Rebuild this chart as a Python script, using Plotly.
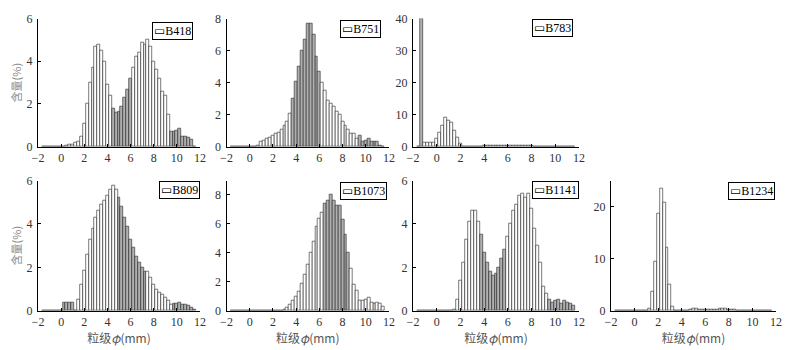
import plotly.graph_objects as go

# 粒级 bin centres (phi), 0.25 phi bins
PHI = [-1.5, -1.25, -1.0, -0.75, -0.5, -0.25, 0.0, 0.25, 0.5, 0.75,
       1.0, 1.25, 1.5, 1.75, 2.0, 2.25, 2.5, 2.75, 3.0, 3.25,
       3.5, 3.75, 4.0, 4.25, 4.5, 4.75, 5.0, 5.25, 5.5, 5.75,
       6.0, 6.25, 6.5, 6.75, 7.0, 7.25, 7.5, 7.75, 8.0, 8.25,
       8.5, 8.75, 9.0, 9.25, 9.5, 9.75, 10.0, 10.25, 10.5, 10.75,
       11.0, 11.25, 11.5]

# 含量 (%) for each sample, one value per bin above
B418 = [0.02, 0.02, 0.02, 0.02, 0.02, 0.02, 0.02, 0.02, 0.05, 0.08,
        0.1, 0.2, 0.25, 0.5, 1.1, 2.0, 3.0, 3.7, 4.7, 4.8,
        4.5, 4.0, 2.9, 2.4, 1.8, 1.6, 1.65, 1.9, 2.3, 2.7,
        3.2, 3.7, 4.2, 4.4, 4.9, 4.8, 5.0, 4.7, 4.0, 3.6,
        3.2, 2.6, 2.4, 1.5, 0.7, 0.7, 0.75, 0.85, 0.5, 0.5,
        0.45, 0.35, 0.0]
B751 = [0.02, 0.02, 0.02, 0.02, 0.02, 0.02, 0.02, 0.02, 0.02, 0.1,
        0.3, 0.4, 0.5, 0.6, 0.7, 0.8, 0.9, 1.1, 1.3, 1.6,
        2.1, 3.0, 4.1, 5.0, 6.0, 6.7, 7.7, 7.7, 7.0, 5.6,
        4.7, 4.0, 3.5, 2.9, 2.7, 2.5, 2.2, 2.0, 1.6, 1.3,
        1.1, 0.8, 0.8, 0.5, 0.7, 0.35, 0.4, 0.5, 0.3, 0.35,
        0.3, 0.1, 0.0]
B783 = [0.0, 40.0, 1.4, 1.4, 1.4, 1.4, 2.7, 4.4, 6.7, 9.0,
        8.3, 7.4, 5.0, 2.8, 0.9, 0.2, 0.05, 0.05, 0.05, 0.05,
        0.05, 0.1, 0.25, 0.3, 0.3, 0.3, 0.3, 0.3, 0.35, 0.35,
        0.35, 0.35, 0.35, 0.35, 0.35, 0.3, 0.3, 0.3, 0.3, 0.2,
        0.15, 0.15, 0.15, 0.15, 0.15, 0.15, 0.15, 0.15, 0.1, 0.1,
        0.1, 0.1, 0.1]
B809 = [0.02, 0.02, 0.02, 0.02, 0.02, 0.02, 0.02, 0.38, 0.38, 0.38,
        0.38, 0.02, 0.5, 1.2, 1.85, 2.6, 3.3, 3.8, 4.3, 4.6,
        4.9, 5.1, 5.3, 5.6, 5.75, 5.6, 5.2, 4.8, 4.3, 3.9,
        3.3, 2.9, 2.5, 2.2, 2.0, 1.8, 1.8, 1.55, 1.2, 1.0,
        0.85, 0.75, 0.6, 0.45, 0.3, 0.35, 0.35, 0.4, 0.3, 0.3,
        0.25, 0.15, 0.05]
B1073 = [0.0, 0.0, 0.0, 0.02, 0.02, 0.02, 0.02, 0.02, 0.02, 0.0,
         0.0, 0.02, 0.02, 0.02, 0.02, 0.02, 0.02, 0.02, 0.05, 0.2,
         0.4, 0.7, 1.0, 1.3, 1.9, 2.5, 3.2, 4.0, 4.8, 5.8,
         6.4, 6.8, 7.4, 7.6, 8.0, 7.6, 7.3, 7.3, 6.3, 5.3,
         4.0, 2.9, 1.8, 1.4, 0.7, 0.7, 0.8, 0.9, 0.6, 0.5,
         0.55, 0.5, 0.3]
B1141 = [0.0, 0.0, 0.0, 0.0, 0.02, 0.02, 0.02, 0.02, 0.02, 0.02,
         0.02, 0.02, 0.05, 0.5, 1.4, 2.2, 3.3, 4.1, 4.6, 4.6,
         4.1, 3.5, 2.7, 2.2, 1.8, 1.6, 1.7, 2.0, 2.4, 2.8,
         3.4, 4.0, 4.6, 4.9, 5.3, 5.4, 5.2, 5.4, 4.7, 3.8,
         3.0, 2.2, 1.1, 0.8, 0.5, 0.4, 0.45, 0.5, 0.35, 0.45,
         0.4, 0.35, 0.25]
B1234 = [0.0, 0.0, 0.0, 0.0, 0.05, 0.05, 0.05, 0.05, 0.05, 0.05,
         0.05, 0.5, 3.6, 9.5, 18.7, 23.5, 20.7, 12.1, 5.0, 0.8,
         0.1, 0.05, 0.05, 0.05, 0.1, 0.2, 0.35, 0.35, 0.3, 0.15,
         0.15, 0.15, 0.2, 0.25, 0.3, 0.35, 0.4, 0.35, 0.3, 0.25,
         0.2, 0.1, 0.1, 0.05, 0.05, 0.05, 0.05, 0.05, 0.05, 0.05,
         0.05, 0.05, 0.05]

SAMPLES = ["B418", "B751", "B783", "B809", "B1073", "B1141", "B1234"]
SERIES = [B418, B751, B783, B809, B1073, B1141, B1234]
Y_MAX = [6, 8, 40, 6, 9, 6, 25]
Y_STEP = [2, 2, 10, 2, 2, 2, 10]
X_TICKS = [-2, 0, 2, 4, 6, 8, 10, 12]

# ---- layout in pixels (page has an 8px body margin, so the figure is 786x342) ----
W, H = 786, 342
COLS = [(30, 192), (218.5, 381), (405, 571), (603, 768)]
ROWS = [(10.5, 138.7), (172.5, 302.7)]
CELL = [(0, 0), (0, 1), (0, 2), (1, 0), (1, 1), (1, 2), (1, 3)]
# legend box anchor (top-right) inside each panel, axis-domain units
LEG_POS = [(0.957, 0.975), (0.951, 0.99), (0.964, 0.995), (1.0, 1.0),
           (0.99, 0.99), (1.0, 1.0), (0.994, 0.99)]
# bar fills look grey over these phi spans in the print (moire of thin bars)
GREY_SPANS = [[(4.4, 6.1), (9.4, 11.6)],
              [(3.6, 6.0), (9.4, 11.6)],
              [(-1.4, -1.1)],
              [(0.1, 1.1), (4.9, 7.4), (9.6, 11.6)],
              [(6.4, 8.6)],
              [(3.6, 5.9), (9.4, 11.6)],
              []]

SERIF = "Liberation Serif, Times New Roman, serif"
CJK = "Noto Sans CJK SC, sans-serif"

fig = go.Figure()
layout = dict(
    width=W, height=H,
    margin=dict(l=0, r=0, t=0, b=0, autoexpand=False),
    paper_bgcolor="white", plot_bgcolor="white",
    showlegend=False, bargap=0,
    annotations=[],
)

for i, (name, vals) in enumerate(zip(SAMPLES, SERIES)):
    n = i + 1
    r, c = CELL[i]
    x0, x1 = COLS[c]
    y0, y1 = ROWS[r]
    xa = "x" if n == 1 else f"x{n}"
    ya = "y" if n == 1 else f"y{n}"

    colors = ["#b0b0b0" if any(a <= p <= b for a, b in GREY_SPANS[i]) else "white"
              for p in PHI]

    fig.add_trace(go.Bar(
        x=PHI, y=vals, width=0.25, name=name,
        marker=dict(color=colors, line=dict(color="#222", width=0.6)),
        xaxis=xa, yaxis=ya,
    ))

    axis_common = dict(
        showline=True, linecolor="black", linewidth=1,
        ticks="inside", ticklen=3, tickcolor="black", tickwidth=1,
        showgrid=False, zeroline=False, automargin=False,
        tickfont=dict(family=SERIF, size=12, color="#333"),
    )
    xaxis = dict(axis_common, domain=[x0 / W, x1 / W], range=[-2, 12],
                 tickvals=X_TICKS, anchor=ya)
    yaxis = dict(axis_common, domain=[1 - y1 / H, 1 - y0 / H],
                 range=[0, Y_MAX[i]], dtick=Y_STEP[i], tick0=0, anchor=xa,
                 ticklabelstandoff=2)
    if r == 1:
        xaxis["title"] = dict(text="粒级<i>φ</i>(mm)", standoff=1,
                              font=dict(family=CJK, size=12, color="#555"))
    if c == 0:
        yaxis["title"] = dict(text="含量(%)", standoff=4,
                              font=dict(family=CJK, size=11, color="#888"))
    layout["xaxis" if n == 1 else f"xaxis{n}"] = xaxis
    layout["yaxis" if n == 1 else f"yaxis{n}"] = yaxis

    lx, ly = LEG_POS[i]
    layout["annotations"].append(dict(
        xref=f"{xa} domain", yref=f"{ya} domain", x=lx, y=ly,
        xanchor="right", yanchor="top", showarrow=False,
        text="<span style='font-family:DejaVu Sans'>▭</span>" + name,
        font=dict(family=SERIF, size=12, color="black"),
        bgcolor="white", bordercolor="black", borderwidth=1, borderpad=1,
    ))

fig.update_layout(**layout)
fig.write_html("out.html")
